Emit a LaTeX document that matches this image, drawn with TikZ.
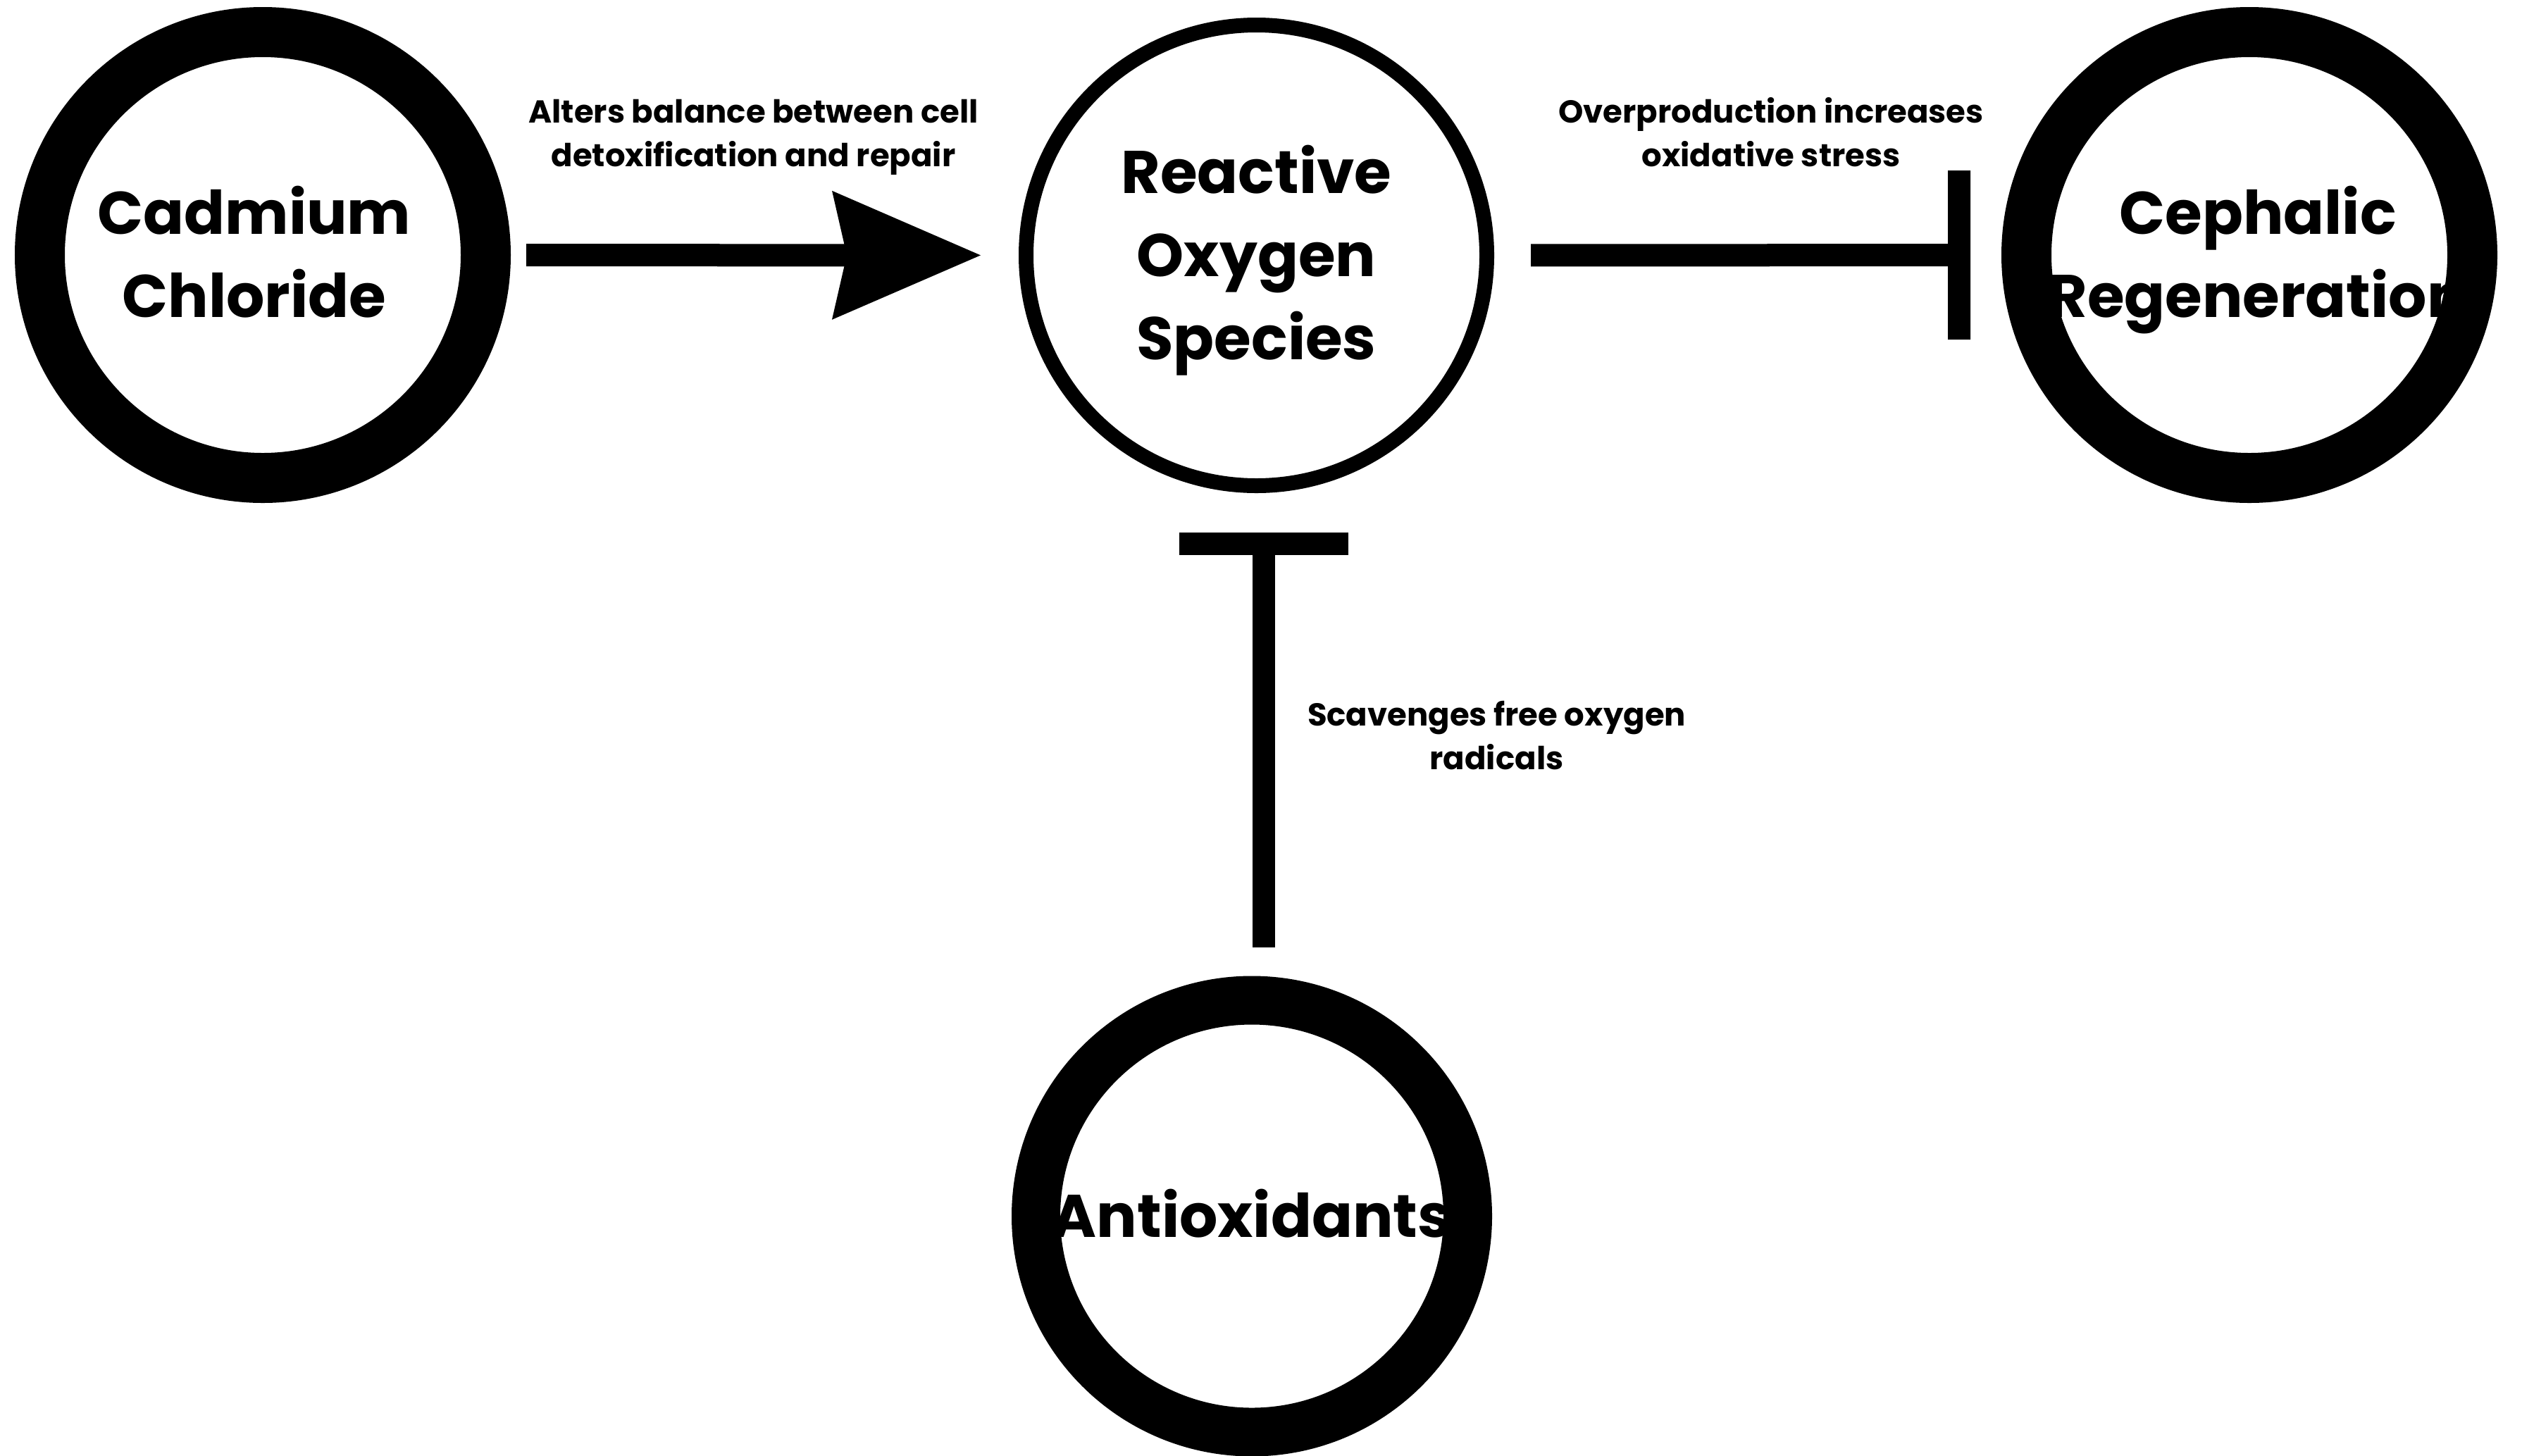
\documentclass[tikz,border=0pt]{standalone}
\usepackage{fontspec}
\setmainfont{Poppins}
\usetikzlibrary{positioning, arrows.meta}

\begin{document}
\begin{tikzpicture}[
		ring/.style={draw, circle, line width=0.71cm, minimum size=6.33cm, inner sep=0pt},
		thinring/.style={draw, circle, line width=0.21cm, minimum size=6.54cm, inner sep=0pt},
		bigtext/.style={align=center, inner sep=0pt, text depth=0pt, font=\bfseries\fontsize{24.3}{33.6}\selectfont},
		note/.style={align=center, inner sep=0pt, font=\bfseries\fontsize{12.8}{17.6}\selectfont},
		act/.style={line width=0.32cm, -{Stealth[length=2.11cm, width=1.83cm, inset=0.21cm, line width=0pt]}},
		inh/.style={line width=0.32cm, -{Bar[width=2.4cm]}},
	]
	\useasboundingbox (0,0) rectangle (35.8,-20.66);

	\node[bigtext] (cad_txt) at (3.61, -3.575) {Cadmium\\Chloride};
	\node[bigtext] (ros_txt) at (17.835, -3.58) {Reactive\\Oxygen\\Species};
	\node[bigtext] (ceph_txt) at (32.05, -3.575) {Cephalic\\Regeneration};
	\node[bigtext] (anti_txt) at (17.77, -17.22) {Antioxidants};

	\node[ring] (cad) at (3.73, -3.62) {};
	\node[thinring] (ros) at (17.835, -3.625) {};
	\node[ring] (ceph) at (31.93, -3.62) {};
	\node[ring, minimum size=6.13cm, line width=0.69cm] (anti) at (17.77, -17.265) {};

	\node[note] (alters) at (10.695, -1.945) {Alters balance between cell\\detoxification and repair};
	\node[note] (overprod) at (25.14, -1.88) {Overproduction increases\\oxidative stress};
	\node[note] (scav) at (21.245, -10.44) {Scavenges free oxygen\\radicals};

	\draw[act, shorten <=0.22cm, shorten >=0.54cm] (cad) -- (ros);
	\draw[inh, shorten <=0.52cm, shorten >=0.44cm] (ros) -- (ceph);
	\draw[inh, shorten <=0.41cm, shorten >=0.56cm] ([xshift=1.65mm]anti.north) -- ([xshift=1.65mm]anti.north |- ros.south);
\end{tikzpicture}
\end{document}
